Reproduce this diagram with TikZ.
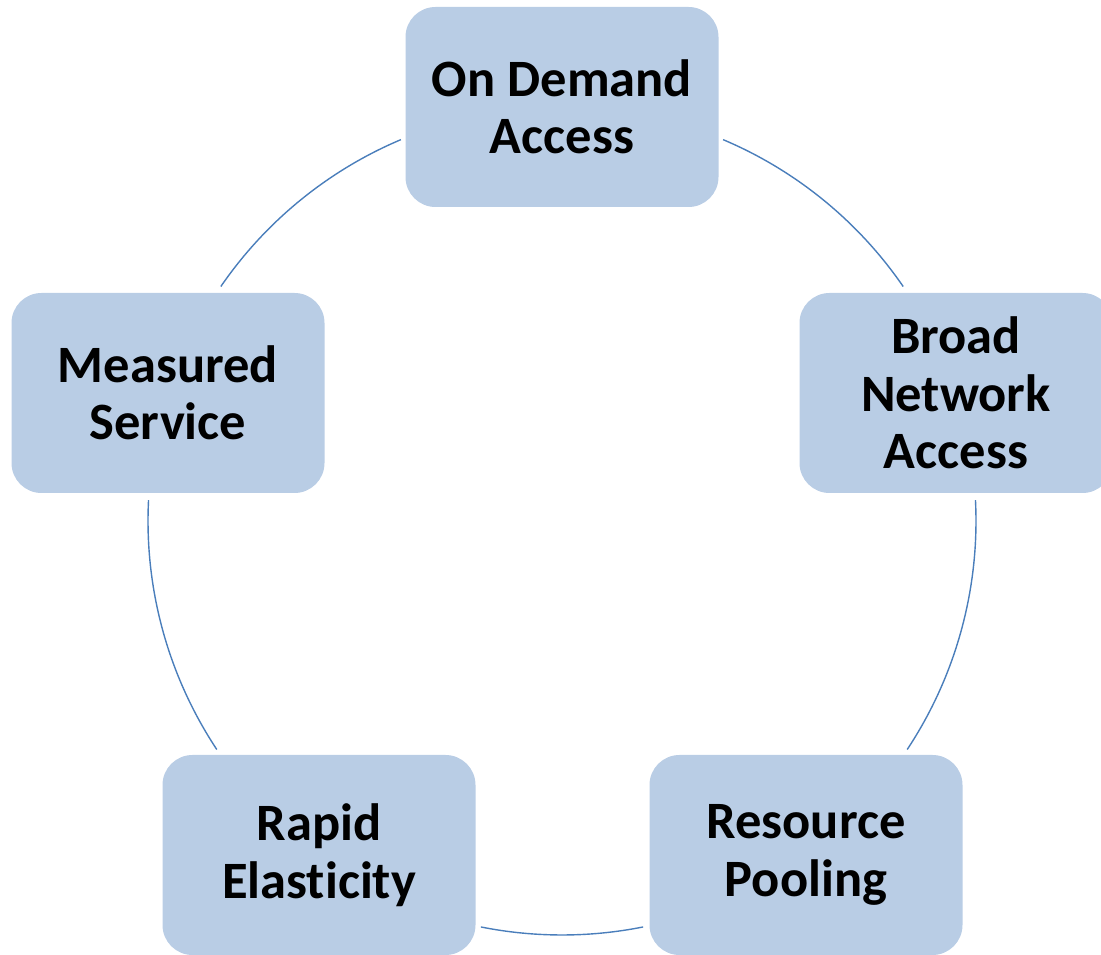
\documentclass[tikz,border=0pt]{standalone}
\usepackage{fontspec}
\setmainfont[Ligatures=CommonOff]{Carlito}
\definecolor{boxfill}{HTML}{B9CDE5}
\definecolor{ringline}{HTML}{4A7EBB}
\begin{document}
\begin{tikzpicture}[x=1pt,y=1pt,
  feature/.style={rectangle, rounded corners=30pt, fill=boxfill,
    minimum width=313pt, minimum height=200pt, align=center,
    inner sep=0pt, text=black,
    font=\fontsize{52.5}{57.5}\selectfont\bfseries},
  ring/.style={draw=ringline, line width=1.4pt}]
\useasboundingbox (0,0) rectangle (1101,954);
\coordinate (c) at (562,433);
% the five characteristics placed around the ring
\node[feature] (ondemand) at (562,847) {On Demand\\Access};
\node[feature] (broad)    at (956,561) {Broad\\Network\\Access};
\node[feature] (pooling)  at (806,99)  {Resource\\Pooling};
\node[feature] (elastic)  at (319,99)  {Rapid\\Elasticity};
\node[feature] (measured) at (168,561) {Measured\\Service};
% ring segments between neighbouring boxes
\draw[ring] ([shift={(67.1:414)}]c)   arc[start angle=67.1,   end angle=34.5,   radius=414];
\draw[ring] ([shift={(2.9:414)}]c)    arc[start angle=2.9,    end angle=-33.5,  radius=414];
\draw[ring] ([shift={(-78.7:414)}]c)  arc[start angle=-78.7,  end angle=-101.3, radius=414];
\draw[ring] ([shift={(-146.5:414)}]c) arc[start angle=-146.5, end angle=-182.9, radius=414];
\draw[ring] ([shift={(145.5:414)}]c)  arc[start angle=145.5,  end angle=112.9,  radius=414];
\end{tikzpicture}
\end{document}
